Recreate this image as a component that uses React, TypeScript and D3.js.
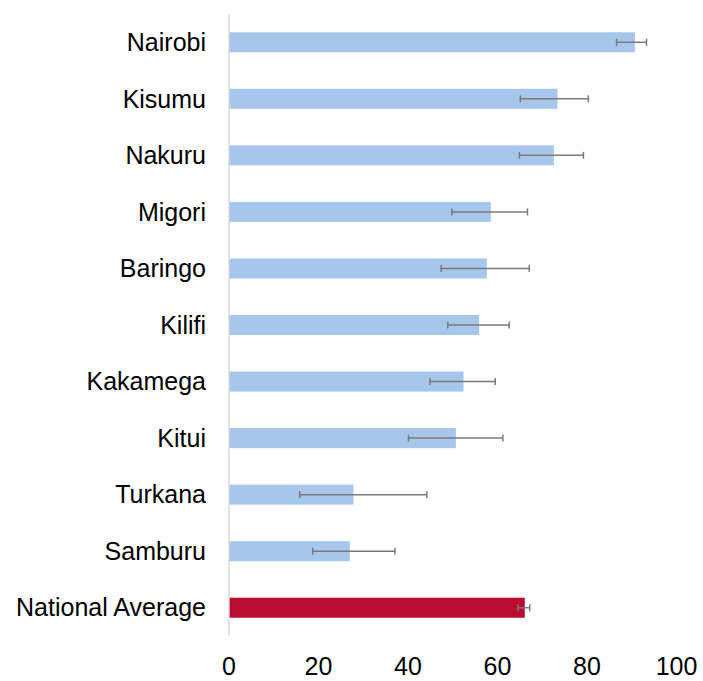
import React, { useEffect, useRef } from 'react';
import * as d3 from 'd3';

const categories = ['Nairobi', 'Kisumu', 'Nakuru', 'Migori', 'Baringo', 'Kilifi', 'Kakamega', 'Kitui', 'Turkana', 'Samburu', 'National Average'];
const values = [90.7, 73.4, 72.6, 58.5, 57.6, 55.9, 52.4, 50.7, 27.8, 27.0, 66.1];
const lowerCI = [86.6, 65.1, 64.9, 49.8, 47.4, 48.9, 44.9, 40.1, 15.8, 18.7, 64.6];
const upperCI = [93.3, 80.3, 79.2, 66.7, 67.1, 62.6, 59.5, 61.2, 44.2, 37.1, 67.2];
const xTicks = [0, 20, 40, 60, 80, 100];

interface Row {
  name: string;
  value: number;
  lo: number;
  hi: number;
}

const App: React.FC = () => {
  const svgRef = useRef<SVGSVGElement | null>(null);

  useEffect(() => {
    document.body.style.margin = '0';
    if (!svgRef.current) return;
    const svg = d3.select(svgRef.current);
    svg.selectAll('*').remove();

    const width = 703;
    const height = 681;
    const font = '"Liberation Sans", Arial, sans-serif';

    const data: Row[] = categories.map((name, i) => ({
      name,
      value: values[i],
      lo: lowerCI[i],
      hi: upperCI[i],
    }));

    const x = d3.scaleLinear().domain([0, 100]).range([229, 676.5]);
    const y = d3.scaleBand<string>()
      .domain(categories)
      .range([14, 636])
      .paddingInner(0.646)
      .paddingOuter(0.323);

    svg.attr('width', width).attr('height', height);

    // bars
    svg.append('g')
      .selectAll('rect')
      .data(data)
      .enter()
      .append('rect')
      .attr('x', x(0))
      .attr('y', d => y(d.name) || 0)
      .attr('width', d => x(d.value) - x(0))
      .attr('height', y.bandwidth())
      .attr('fill', d => d.name === 'National Average' ? '#BA0C2F' : '#A7C6EC');

    // vertical axis line
    svg.append('line')
      .attr('x1', x(0)).attr('x2', x(0))
      .attr('y1', 14).attr('y2', 636)
      .attr('stroke', '#d9d9d9')
      .attr('stroke-width', 1.5);

    // error bars
    const err = svg.append('g')
      .attr('stroke', '#7a7a7a')
      .attr('stroke-width', 1.5);
    data.forEach(d => {
      const cy = (y(d.name) || 0) + y.bandwidth() / 2;
      err.append('line')
        .attr('x1', x(d.lo)).attr('x2', x(d.hi))
        .attr('y1', cy).attr('y2', cy);
      [d.lo, d.hi].forEach(v => {
        err.append('line')
          .attr('x1', x(v)).attr('x2', x(v))
          .attr('y1', cy - 3.5).attr('y2', cy + 3.5);
      });
    });

    // category labels
    svg.append('g')
      .selectAll('text')
      .data(data)
      .enter()
      .append('text')
      .attr('x', 206)
      .attr('y', d => (y(d.name) || 0) + y.bandwidth() / 2)
      .attr('dy', '0.35em')
      .attr('text-anchor', 'end')
      .style('font-family', font)
      .style('font-size', '25px')
      .attr('fill', '#000')
      .text(d => d.name);

    // x tick labels
    svg.append('g')
      .selectAll('text')
      .data(xTicks)
      .enter()
      .append('text')
      .attr('x', d => x(d))
      .attr('y', 675)
      .attr('text-anchor', 'middle')
      .style('font-family', font)
      .style('font-size', '25px')
      .attr('fill', '#000')
      .text(d => String(d));
  }, []);

  return (
    <div>
      <svg ref={svgRef} style={{ display: 'block' }} />
    </div>
  );
};

export default App;
